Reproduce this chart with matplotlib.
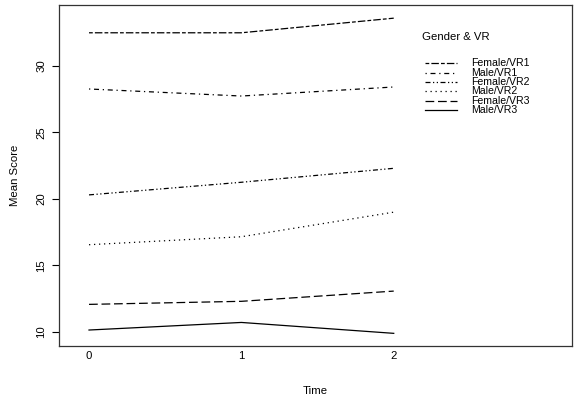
import matplotlib
matplotlib.use('Agg')
import matplotlib.pyplot as plt
import numpy as np

plt.rcParams['font.family'] = ['Liberation Sans', 'DejaVu Sans']

time = [0, 1, 2]
groups = ['Female/VR1', 'Male/VR1', 'Female/VR2', 'Male/VR2', 'Female/VR3', 'Male/VR3']
female_vr1 = [32.5, 32.5, 33.6]
male_vr1 = [28.27, 27.74, 28.42]
female_vr2 = [20.3, 21.25, 22.3]
male_vr2 = [16.55, 17.15, 19.0]
female_vr3 = [12.06, 12.29, 13.06]
male_vr3 = [10.13, 10.7, 9.88]
means = [female_vr1, male_vr1, female_vr2, male_vr2, female_vr3, male_vr3]

# R style line types (twodash, dotdash, custom, dotted, longdash, solid)
dashes = [(3, 1.7, 6, 1.7), (1, 3, 4, 3), (4, 2, 1, 2, 1, 2), (1, 3), (7, 3), None]


def main():
    fig = plt.figure(figsize=(5.79, 4.04), dpi=100)
    ax = fig.add_axes([0.1019, 0.1443, 0.886, 0.8433])
    lw = 0.9
    fs = 8.2
    for name, vals, d in zip(groups, means, dashes):
        line, = ax.plot(time, vals, color='black', lw=lw)
        if d is not None:
            line.set_dashes(d)

    ax.set_xlim(-0.197, 3.17)
    ax.set_ylim(8.95, 34.59)
    ax.set_xticks(time)
    ax.set_yticks([10, 15, 20, 25, 30])
    ax.tick_params(axis='x', length=0, pad=4, labelsize=fs)
    ax.tick_params(axis='y', length=5, width=0.8, pad=4, labelsize=fs)
    for lab in ax.get_yticklabels():
        lab.set_rotation(90)
        lab.set_va('center')
    for s in ax.spines.values():
        s.set_linewidth(0.9)
        s.set_color('#333333')
    ax.set_xlabel('Time', fontsize=fs, labelpad=18)
    ax.set_ylabel('Mean Score', fontsize=fs, labelpad=12)

    # legend, R interaction.plot style
    ax.text(0.707, 0.906, 'Gender & VR', transform=ax.transAxes, fontsize=fs,
            ha='left', va='center')
    ys = [0.829, 0.8015, 0.774, 0.7465, 0.719, 0.6915]
    for name, d, y in zip(groups, dashes, ys):
        h, = ax.plot([0.7135, 0.776], [y, y], transform=ax.transAxes,
                     color='black', lw=lw)
        if d is not None:
            h.set_dashes(d)
        ax.text(0.8025, y, name, transform=ax.transAxes, fontsize=7.6,
                ha='left', va='center')

    fig.savefig('out.png', dpi=100)


if __name__ == '__main__':
    main()
